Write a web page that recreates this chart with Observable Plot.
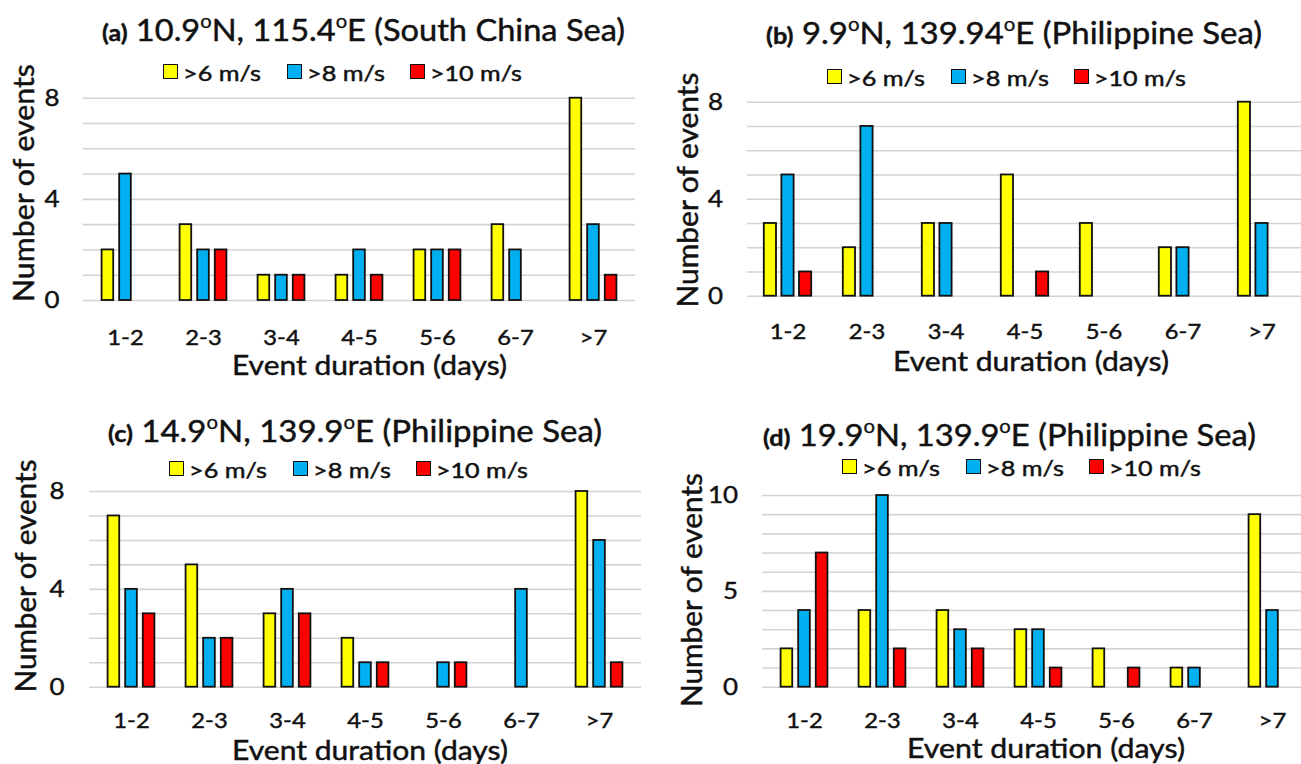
<!DOCTYPE html>
<html>
<head>
<meta charset="utf-8">
<script src="https://cdn.jsdelivr.net/npm/d3@7"></script>
<script src="https://cdn.jsdelivr.net/npm/@observablehq/plot@0.6"></script>
<style>
  html, body { margin: 0; padding: 0; background: #fff; overflow: hidden; }
  #fig { position: relative; width: 1301px; height: 764px; overflow: hidden; font-family: Lato, "Open Sans", sans-serif; color: #111; }
  .txt { position: absolute; white-space: nowrap; line-height: 1; -webkit-text-stroke: 0.45px #111; }
  .sq { position: absolute; width: 13px; height: 13px; border: 1.6px solid #111; }
  .deg { font-size: 0.62em; position: relative; top: -0.68em; -webkit-text-stroke: 0.3px #111; }
  .tag { font-weight: 700; font-size: 23px; }
  #fig svg text { stroke: #111; stroke-width: 0.45px; }
</style>
</head>
<body>
<div id="fig"></div>
<script>
// Event-duration categories and wind-speed thresholds
const durations = ["1-2", "2-3", "3-4", "4-5", "5-6", "6-7", ">7"];
const speedClasses = [">6 m/s", ">8 m/s", ">10 m/s"];
const classColors = ["#ffff00", "#00b0f0", "#ff0000"];

// Panel headings
const panelTags = ["(a)", "(b)", "(c)", "(d)"];
const panelLat = ["10.9", "9.9", "14.9", "19.9"];
const panelLon = ["115.4", "139.94", "139.9", "139.9"];
const panelSea = ["South China Sea", "Philippine Sea", "Philippine Sea", "Philippine Sea"];

// Number of events per duration class, one array per threshold
const countsA6 = [2, 3, 1, 1, 2, 3, 8];
const countsA8 = [5, 2, 1, 2, 2, 2, 3];
const countsA10 = [0, 2, 1, 1, 2, 0, 1];

const countsB6 = [3, 2, 3, 5, 3, 2, 8];
const countsB8 = [5, 7, 3, 0, 0, 2, 3];
const countsB10 = [1, 0, 0, 1, 0, 0, 0];

const countsC6 = [7, 5, 3, 2, 0, 0, 8];
const countsC8 = [4, 2, 4, 1, 1, 4, 6];
const countsC10 = [3, 2, 3, 1, 1, 0, 1];

const countsD6 = [2, 4, 4, 3, 2, 1, 9];
const countsD8 = [4, 10, 3, 3, 0, 1, 4];
const countsD10 = [7, 2, 2, 1, 1, 0, 0];

// Y tick labels per panel
const yTicksA = [0, 4, 8];
const yTicksB = [0, 4, 8];
const yTicksC = [0, 4, 8];
const yTicksD = [0, 5, 10];

const xTitle = "Event duration (days)";
const yTitle = "Number of events";

const panelCounts = [
  [countsA6, countsA8, countsA10],
  [countsB6, countsB8, countsB10],
  [countsC6, countsC8, countsC10],
  [countsD6, countsD8, countsD10]
];
const panelTicks = [yTicksA, yTicksB, yTicksC, yTicksD];

// Page layout of the four panels (pixels)
const layout = [
  {svg: {left: 0, top: 0, w: 650, h: 380}, frame: {l: 83, r: 635, t: 97.7, b: 300},
   title: {x0: 102, x1: 625, cy: 29}, legend: {x0: 163, cy: 72},
   xTitle: {x0: 232, x1: 507, cy: 364}, yTitle: {cx: 23, cy: 183, len: 238}, xPad: 29, yPad: 24},
  {svg: {left: 650, top: 0, w: 660, h: 380}, frame: {l: 747, r: 1302, t: 101.7, b: 295.7},
   title: {x0: 766, x1: 1262, cy: 32}, legend: {x0: 827, cy: 77},
   xTitle: {x0: 893, x1: 1169, cy: 360}, yTitle: {cx: 687, cy: 190, len: 235}, xPad: 27.5, yPad: 24.5},
  {svg: {left: 0, top: 380, w: 650, h: 384}, frame: {l: 89, r: 641, t: 491, b: 686.7},
   title: {x0: 108, x1: 602, cy: 430}, legend: {x0: 169, cy: 468.5},
   xTitle: {x0: 232, x1: 508, cy: 749}, yTitle: {cx: 25, cy: 576, len: 233}, xPad: 25.5, yPad: 25},
  {svg: {left: 650, top: 380, w: 672, h: 384}, frame: {l: 762, r: 1314, t: 495, b: 686.7},
   title: {x0: 763, x1: 1256, cy: 434}, legend: {x0: 842, cy: 467},
   xTitle: {x0: 907, x1: 1185, cy: 747}, yTitle: {cx: 691, cy: 590, len: 234}, xPad: 25, yPad: 24.5}
];

const legendOffsets = [0, 124, 247];
const legendTextWidths = [78, 78, 92];
const barWidth = 12.5;
const barStep = 17.6;

const fig = document.getElementById("fig");

// Horizontal run of text, stretched to span x0..x1, vertically centred on cy
function placeRun(html, fontSize, x0, x1, cy) {
  const el = document.createElement("div");
  el.className = "txt";
  el.style.fontSize = fontSize + "px";
  el.innerHTML = html;
  fig.appendChild(el);
  const k = (x1 - x0) / el.getBoundingClientRect().width;
  el.style.left = x0 + "px";
  el.style.top = cy + "px";
  el.style.transformOrigin = "0 50%";
  el.style.transform = `translateY(-50%) scaleX(${k})`;
  return el;
}

// Rotated axis title centred on (cx, cy)
function placeVertical(text, fontSize, cx, cy, len) {
  const el = document.createElement("div");
  el.className = "txt";
  el.style.fontSize = fontSize + "px";
  el.textContent = text;
  fig.appendChild(el);
  const k = len / el.getBoundingClientRect().width;
  el.style.left = cx + "px";
  el.style.top = cy + "px";
  el.style.transform = `translate(-50%, -50%) rotate(-90deg) scaleX(${k})`;
  return el;
}

function drawPanel(p) {
  const L = layout[p];
  const ticks = panelTicks[p];
  const yMax = ticks[ticks.length - 1];
  const rows = [];
  panelCounts[p].forEach((series, s) => {
    series.forEach((n, i) => rows.push({dur: durations[i], cls: speedClasses[s], s, n}));
  });

  const bandwidth = (L.frame.r - L.frame.l) / durations.length;
  const inset = (bandwidth - barWidth) / 2;

  const svg = Plot.plot({
    width: L.svg.w,
    height: L.svg.h,
    marginLeft: L.frame.l - L.svg.left,
    marginRight: L.svg.left + L.svg.w - L.frame.r,
    marginTop: L.frame.t - L.svg.top,
    marginBottom: L.svg.top + L.svg.h - L.frame.b,
    style: {fontFamily: "Lato, 'Open Sans', sans-serif", fontSize: "22px", color: "#111", background: "transparent", overflow: "visible"},
    x: {domain: durations, padding: 0},
    y: {domain: [0, yMax]},
    marks: [
      Plot.ruleY(d3.range(0, yMax + 1), {stroke: "#d3d3d3", strokeWidth: 1.6}),
      ...speedClasses.map((cls, s) =>
        Plot.barY(rows.filter(d => d.s === s && d.n > 0), {
          x: "dur", y: "n",
          fill: classColors[s], stroke: "#111", strokeWidth: 1.8,
          insetLeft: inset, insetRight: inset, dx: (s - 1) * barStep
        })
      ),
      Plot.axisX({tickSize: 0, tickPadding: L.xPad, fontSize: 22, label: null}),
      Plot.axisY({ticks: ticks, tickSize: 0, tickPadding: L.yPad, fontSize: 24, label: null})
    ]
  });
  svg.style.position = "absolute";
  svg.style.left = L.svg.left + "px";
  svg.style.top = L.svg.top + "px";
  svg.style.maxWidth = "none";
  // widen tick labels slightly, matching the wide face used for the other text
  svg.querySelectorAll('g[aria-label$="tick label"] text').forEach(t => {
    const tr = t.getAttribute("transform");
    if (tr && tr.includes("translate")) t.setAttribute("transform", tr + " scale(1.08,1)");
  });
  fig.appendChild(svg);

  // Title
  const titleHtml = `<span class="tag">${panelTags[p]}</span> ${panelLat[p]}<span class="deg">o</span>N, ${panelLon[p]}<span class="deg">o</span>E (${panelSea[p]})`;
  placeRun(titleHtml, 30, L.title.x0, L.title.x1, L.title.cy);

  // Legend
  speedClasses.forEach((cls, s) => {
    const x = L.legend.x0 + legendOffsets[s];
    const sq = document.createElement("div");
    sq.className = "sq";
    sq.style.background = classColors[s];
    sq.style.left = x + "px";
    sq.style.top = (L.legend.cy - 8) + "px";
    fig.appendChild(sq);
    placeRun(cls, 21, x + 20, x + 20 + legendTextWidths[s], L.legend.cy);
  });

  // Axis titles
  placeRun(xTitle, 27, L.xTitle.x0, L.xTitle.x1, L.xTitle.cy);
  placeVertical(yTitle, 28, L.yTitle.cx, L.yTitle.cy, L.yTitle.len);
}

for (let p = 0; p < 4; p++) drawPanel(p);
</script>
</body>
</html>
